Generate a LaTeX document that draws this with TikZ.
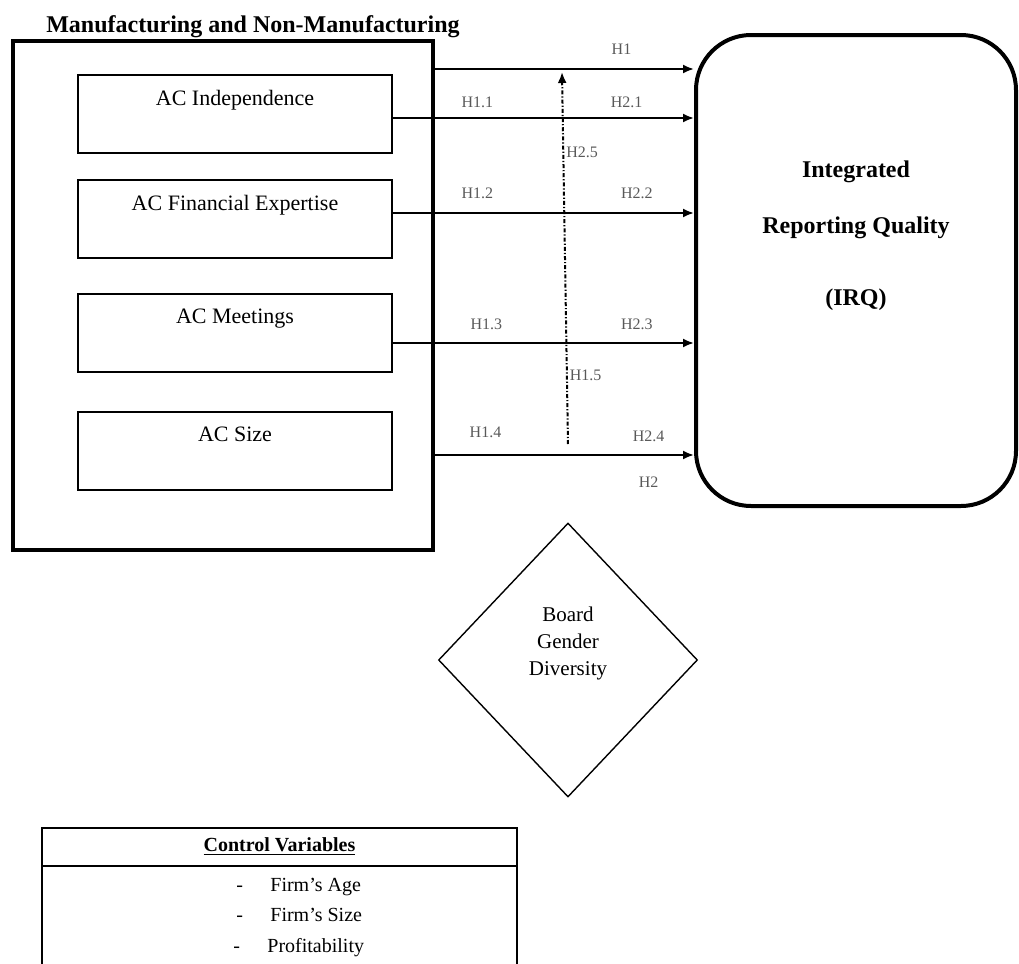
\documentclass[tikz,border=0pt]{standalone}
\usepackage{fontspec}
\setmainfont{Liberation Serif}
\usetikzlibrary{arrows.meta,shapes.geometric}

\tikzset{
  acbox/.style={draw,line width=1pt,minimum width=157pt,inner xsep=2pt,inner ysep=4pt,
    text height=11pt,text depth=20pt,font=\fontsize{11}{13}\selectfont},
  frame/.style={draw,line width=2pt},
  bigtext/.style={font=\bfseries\fontsize{12}{14}\selectfont},
  hyp/.style={->,line width=1pt},
  hlab/.style={text=black!65,font=\fontsize{8}{9}\selectfont,inner sep=1pt},
  ctrlbox/.style={draw,line width=1pt,minimum width=237.5pt,outer sep=0pt},
  ctrlitem/.style={anchor=base west,inner sep=0pt,font=\fontsize{10}{12}\selectfont},
}

\begin{document}
\begin{tikzpicture}[x=0.5pt,y=-0.5pt,>={Latex[length=5.5pt,width=4.5pt]}]
  \useasboundingbox (0,0) rectangle (1019,964);
  % independent variables
  \node[bigtext] (title) at (253,27) {Manufacturing and Non-Manufacturing};
  \node[frame,minimum width=210.25pt,minimum height=254.5pt] (outer) at (222.75,295.5) {};
  \node[acbox] (indep) at (235,114) {AC Independence};
  \node[acbox] (finexp) at (235,219) {AC Financial Expertise};
  \node[acbox] (meet) at (235,332.5) {AC Meetings};
  \node[acbox] (acsize) at (235,450.5) {AC Size};

  % dependent variable
  \node[frame,rounded corners=27.5pt,minimum width=160pt,minimum height=235.5pt] (irq) at (856,270.5) {};
  \node[bigtext] (irqa) at (856,172) {Integrated};
  \node[bigtext] (irqb) at (856,228) {Reporting Quality};
  \node[bigtext] (irqc) at (856,300) {(IRQ)};

  % hypotheses
  \draw[hyp] (outer.east |- 0,69) -- node[hlab,pos=.72,yshift=10pt] (h1) {H1} (irq.west |- 0,69);
  \draw[hyp] (indep.east |- 0,118) -- node[hlab,pos=.28,yshift=8pt] (h11) {H1.1}
    node[hlab,pos=.776,yshift=8pt] (h21) {H2.1} (irq.west |- 0,118);
  \draw[hyp] (finexp.east |- 0,213) -- node[hlab,pos=.28,yshift=10pt] (h12) {H1.2}
    node[hlab,pos=.81,yshift=10pt] (h22) {H2.2} (irq.west |- 0,213);
  \draw[hyp] (meet.east |- 0,343) -- node[hlab,pos=.31,yshift=9.5pt] (h13) {H1.3}
    node[hlab,pos=.81,yshift=9.5pt] (h23) {H2.3} (irq.west |- 0,343);
  \draw[hyp] (outer.east |- 0,455) -- node[hlab,pos=.195,yshift=11.5pt] (h14) {H1.4}
    node[hlab,pos=.825,yshift=9.5pt] (h24) {H2.4}
    node[hlab,pos=.825,yshift=-13.5pt] (h2) {H2} (irq.west |- 0,455);

  % moderator
  \coordinate (modbase) at (568,444);
  \coordinate (modtip) at (562,72);
  \draw[->,line width=1pt,dash pattern=on 2pt off 1pt on 0.6pt off 1pt] (modbase) --
    node[hlab,anchor=west,pos=.185] (h15) {H1.5}
    node[hlab,anchor=west,pos=.785] (h25) {H2.5} (modtip);
  \node[draw,diamond,line width=0.7pt,minimum width=129.5pt,minimum height=137pt,inner sep=0pt] (bgd) at (568,660) {};
  \node[align=center,font=\fontsize{10.5}{13.5}\selectfont] (bgdtext) at (568,643) {Board\\Gender\\Diversity};

  % control variables
  \node[ctrlbox,minimum height=19pt,font=\bfseries\fontsize{10}{12}\selectfont] (ctrlhead) at (279.5,847) {\underline{Control Variables}};
  \node[ctrlbox,minimum height=60pt,anchor=north] (ctrlbody) at (ctrlhead.south) {};
  \node[ctrlitem] (age) at (236,891) {\makebox[17pt][l]{-}Firm's Age};
  \node[ctrlitem] (fsize) at (236,921) {\makebox[17pt][l]{-}Firm's Size};
  \node[ctrlitem] (profit) at (233,952) {\makebox[17pt][l]{-}Profitability};
\end{tikzpicture}
\end{document}
